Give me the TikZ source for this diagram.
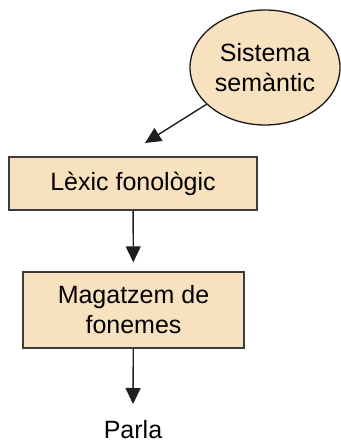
\documentclass[tikz,border=0pt]{standalone}
\usepackage{fontspec}
\setmainfont{Liberation Sans}
\usetikzlibrary{arrows.meta,shapes.geometric}
\definecolor{boxfill}{RGB}{248,225,190}
\definecolor{edge}{RGB}{60,60,60}
\tikzset{
  box/.style={draw=edge,line width=1.4pt,fill=boxfill,inner sep=0pt},
  cloud/.style={ellipse,draw=black!90,line width=1.3pt,fill=boxfill,inner sep=0pt},
  arr/.style={-{Triangle[length=16pt,width=15pt]},line width=1.4pt,black!88},
  lbl/.style={font=\fontsize{25}{30}\selectfont,align=center}
}
\begin{document}
\begin{tikzpicture}[x=1pt,y=-1pt]
\useasboundingbox (0,0) rectangle (340,443);
\node[cloud,minimum width=150pt,minimum height=115pt] (sem) at (265,67.5) {};
\node[lbl] at (sem) {Sistema\\semàntic};
\node[box,minimum width=248pt,minimum height=53pt] (lex) at (133,183.5) {};
\node[lbl] at (lex) {Lèxic fonològic};
\node[box,minimum width=221pt,minimum height=76pt] (mag) at (133.5,310) {};
\node[lbl] at (mag) {Magatzem de\\fonemes};
\node[lbl,anchor=base] (par) at (133,438) {Parla};
\coordinate (lexIn) at (145,143);
\coordinate (parTop) at (133,404);
\draw[arr] (sem) -- (lexIn);
\draw[arr,shorten >=9pt] (lex) -- (mag);
\draw[arr] (mag) -- (parTop);
\end{tikzpicture}
\end{document}
